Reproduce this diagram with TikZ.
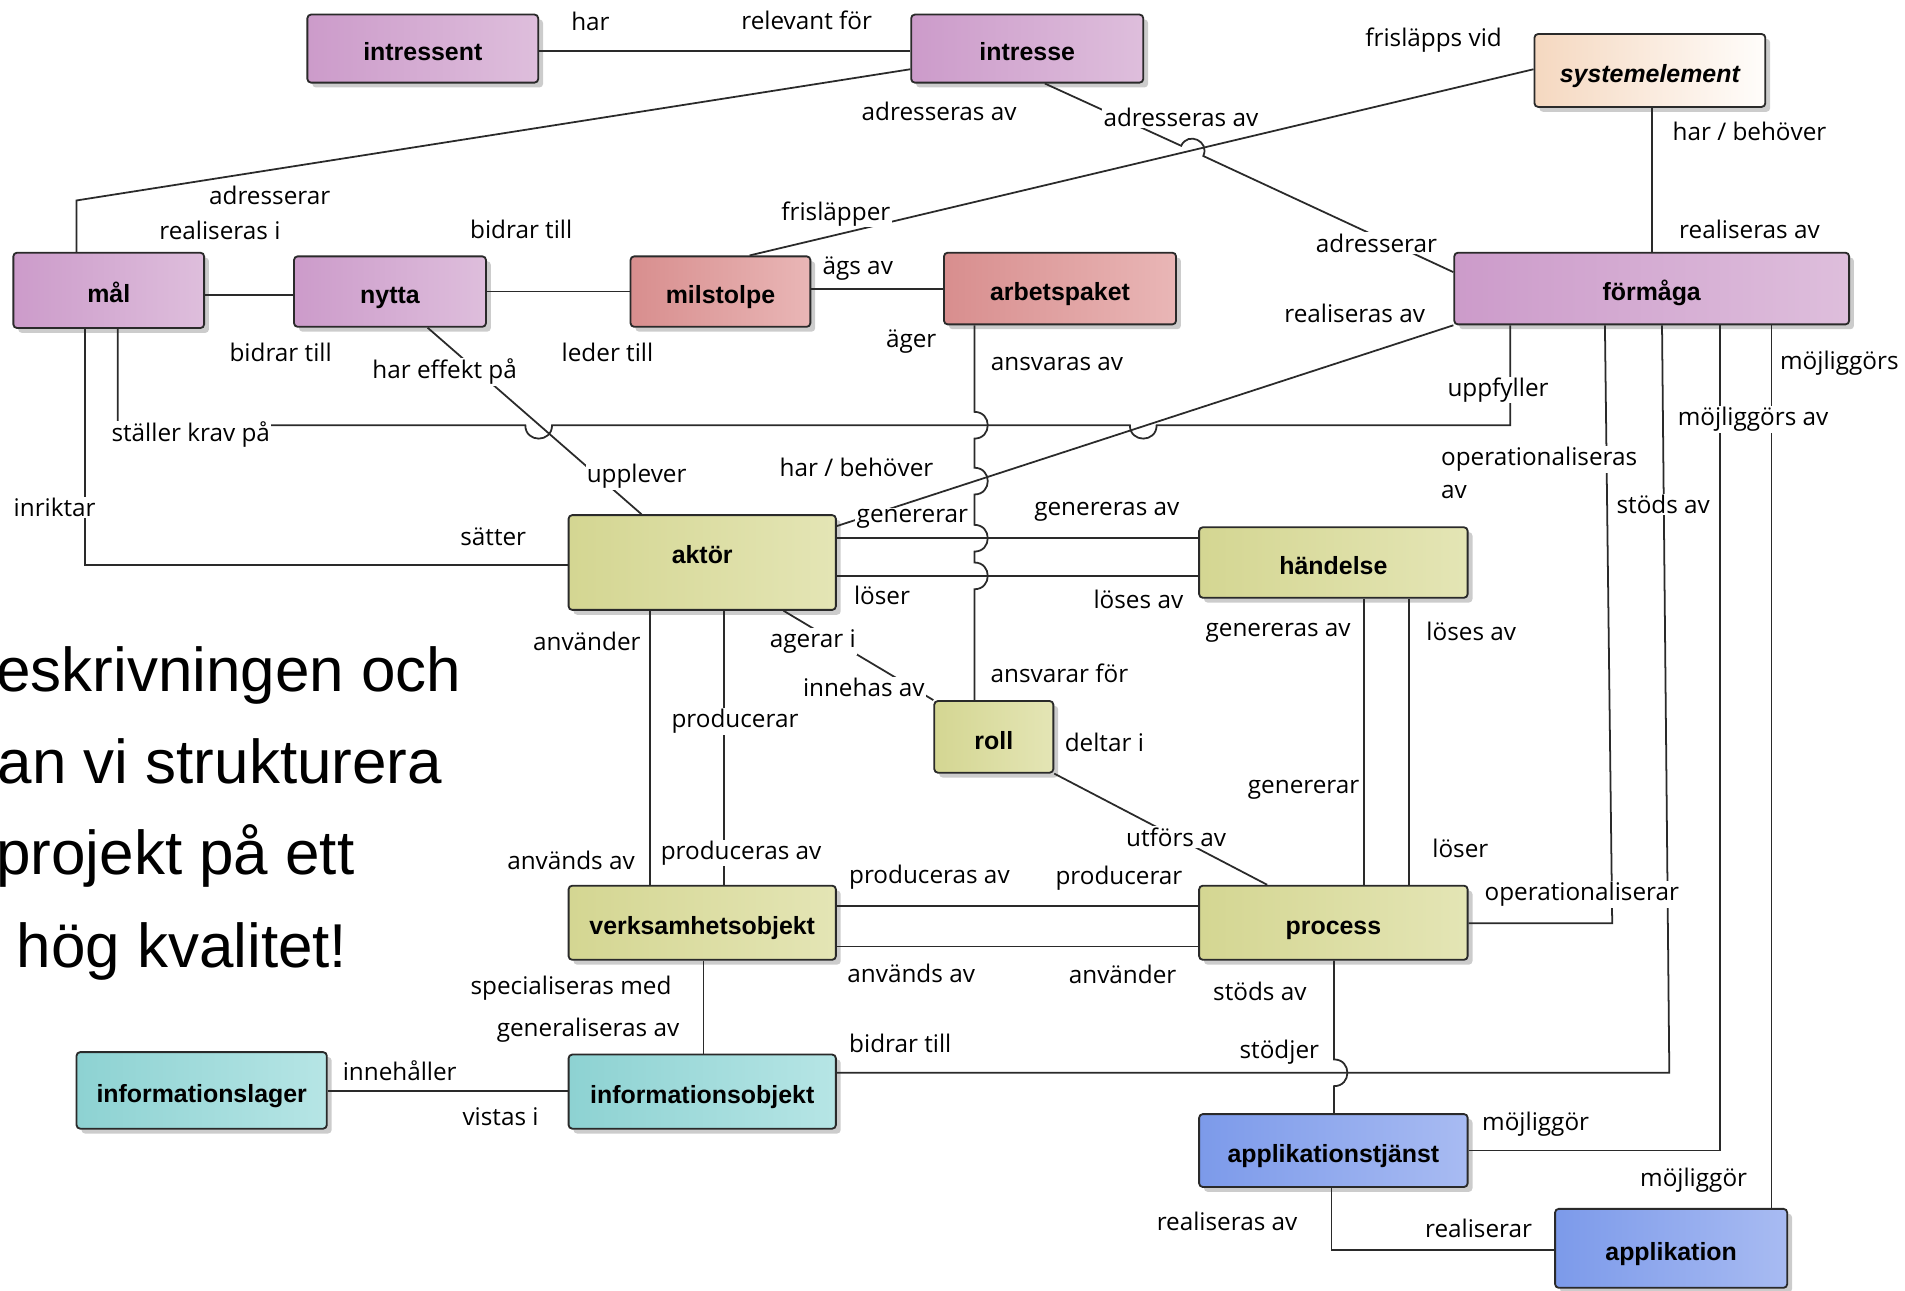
\documentclass[tikz,border=0pt]{standalone}
\usepackage{fontspec}
\setmainfont{Open Sans}
\newfontfamily\boxfont{Liberation Sans}
\newfontfamily\bigfont{Liberation Sans}
\usetikzlibrary{shadows}

\definecolor{lineC}{HTML}{2A2A2A}
\definecolor{purL}{HTML}{CC9BCA}
\definecolor{purR}{HTML}{DEBEDC}
\definecolor{redL}{HTML}{D88E8E}
\definecolor{redR}{HTML}{E9B6B6}
\definecolor{oliL}{HTML}{D4D692}
\definecolor{oliR}{HTML}{E4E5B5}
\definecolor{cyaL}{HTML}{8DD2D2}
\definecolor{cyaR}{HTML}{B6E5E5}
\definecolor{bluL}{HTML}{7C9AEA}
\definecolor{bluR}{HTML}{A8BBF2}
\definecolor{sysL}{HTML}{F5D8C0}
\definecolor{sysR}{HTML}{FFFDFB}

\begin{document}
\begin{tikzpicture}[x=1pt,y=-1pt,
  box/.style={draw=lineC, line width=1.5pt, rounded corners=3pt, inner sep=0pt,
    text height=20pt, text depth=0pt,
    font=\boxfont\bfseries\fontsize{20.5}{24}\selectfont,
    drop shadow={shadow xshift=4pt,shadow yshift=-4pt,opacity=0.2,fill=black}},
  pbox/.style={box, left color=purL, right color=purR},
  rbox/.style={box, left color=redL, right color=redR},
  obox/.style={box, left color=oliL, right color=oliR},
  cbox/.style={box, left color=cyaL, right color=cyaR},
  bbox/.style={box, left color=bluL, right color=bluR},
  sbox/.style={box, left color=sysL, right color=sysR},
  conn/.style={draw=lineC, line width=1.45pt},
  lab/.style={fill=white, inner sep=1pt, text=black, font=\fontsize{20}{24}\selectfont},
  bigtext/.style={anchor=base east, inner sep=0pt, text=black, font=\bigfont\fontsize{51}{60}\selectfont},
]
\useasboundingbox (0,0) rectangle (1568,1062);
\clip (0,0) rectangle (1568,1062);
\fill[white] (0,0) rectangle (1568,1062);

% ---------- side text ----------
\node[bigtext] (t1) at (380,569) {eskrivningen och};
\node[bigtext] (t2) at (364,645) {an vi strukturera};
\node[bigtext] (t3) at (292,720) {projekt på ett};
\node[bigtext] (t4) at (286,796) {hög kvalitet!};

% ---------- concepts ----------
\node[pbox, minimum width=190, minimum height=56] (intressent) at (348,40) {intressent};
\node[pbox, minimum width=191, minimum height=56] (intresse) at (845.5,40) {intresse};
\node[sbox, minimum width=190, minimum height=60] (sysel) at (1358,58) {\itshape systemelement};
\node[pbox, minimum width=157, minimum height=62] (mal) at (89.5,239) {mål};
\node[pbox, minimum width=158, minimum height=58] (nytta) at (321,240) {nytta};
\node[rbox, minimum width=148, minimum height=58] (milstolpe) at (593,240) {milstolpe};
\node[rbox, minimum width=191, minimum height=59] (arbetspaket) at (872.5,237.5) {arbetspaket};
\node[pbox, minimum width=325, minimum height=59] (formaga) at (1359.5,237.5) {förmåga};
\node[obox, minimum width=220, minimum height=78] (aktor) at (578,463) {\raisebox{9.5pt}{aktör}};
\node[obox, minimum width=221, minimum height=58] (handelse) at (1097.5,463) {händelse};
\node[obox, minimum width=98, minimum height=59] (roll) at (818,606.5) {roll};
\node[obox, minimum width=220, minimum height=61] (verks) at (578,759.5) {verksamhetsobjekt};
\node[obox, minimum width=221, minimum height=61] (process) at (1097.5,759.5) {process};
\node[cbox, minimum width=206, minimum height=63] (infolager) at (166,897.5) {informationslager};
\node[cbox, minimum width=220, minimum height=61] (infobj) at (578,898.5) {informationsobjekt};
\node[bbox, minimum width=221, minimum height=60] (apptj) at (1097.5,947) {applikationstjänst};
\node[bbox, minimum width=191, minimum height=65] (app) at (1375.5,1027.5) {applikation};

% ---------- relations ----------
\draw[conn] (intressent.east |- 0,42) -- (intresse.west |- 0,42);
\draw[conn] (intresse.west |- 0,57) -- (63,165) -- (mal.north -| 63,0);
\draw[conn] (intresse.south -| 860,0) -- (972.2,120.0)
  .. controls (977.8,107.9) and (996.0,116.3) .. (990.4,128.4) -- (formaga.west |- 0,224);
\draw[conn] (sysel.west |- 0,57) -- (milstolpe.north -| 617,0);
\draw[conn] (sysel.south -| 1360,0) -- (formaga.north -| 1360,0);
\draw[conn] (mal.east |- 0,243) -- (nytta.west |- 0,243);
\draw[conn] (nytta.east) -- (milstolpe.west);
\draw[conn] (milstolpe.east |- 0,238) -- (arbetspaket.west |- 0,238);
\draw[conn] (nytta.south -| 352,0) -- (aktor.north -| 528,0);
\draw[conn] (mal.south -| 97,0) -- (97,350) -- (432.4,350)
  .. controls (432.4,364.7) and (454.4,364.7) .. (454.4,350) -- (930,350)
  .. controls (930,364.7) and (952,364.7) .. (952,350) -- (1243,350) -- (formaga.south -| 1243,0);
\draw[conn] (mal.south -| 70,0) |- (aktor.west |- 0,465);
\draw[conn] (formaga.south west) -- (aktor.east |- 0,433);
\draw[conn] (arbetspaket.south -| 802,0) -- (802,339)
  .. controls (816.7,339) and (816.7,361) .. (802,361) -- (802,385)
  .. controls (816.7,385) and (816.7,407) .. (802,407) -- (802,432)
  .. controls (816.7,432) and (816.7,454) .. (802,454) -- (802,463)
  .. controls (816.7,463) and (816.7,485) .. (802,485) -- (roll.north -| 802,0);
\draw[conn] (aktor.east |- 0,443) -- (handelse.west |- 0,443);
\draw[conn] (aktor.east |- 0,474) -- (handelse.west |- 0,474);
\draw[conn] (aktor.south -| 535,0) -- (verks.north -| 535,0);
\draw[conn] (aktor.south -| 596,0) -- (verks.north -| 596,0);
\draw[conn] (aktor.south -| 645,0) -- (roll.north west);
\draw[conn] (roll.south east) -- (process.north -| 1043,0);
\draw[conn] (handelse.south -| 1123,0) -- (process.north -| 1123,0);
\draw[conn] (handelse.south -| 1160,0) -- (process.north -| 1160,0);
\draw[conn] (verks.east |- 0,746) -- (process.west |- 0,746);
\draw[conn] (verks.east |- 0,779) -- (process.west |- 0,779);
\draw[conn] (verks.south -| 579,0) -- (infobj.north -| 579,0);
\draw[conn] (infolager.east |- 0,898) -- (infobj.west |- 0,898);
\draw[conn] (infobj.east |- 0,883) -- (1374,883) -- (formaga.south -| 1368,0);
\draw[conn] (process.east |- 0,760) -- (1327,760) -- (formaga.south -| 1321,0);
\draw[conn] (process.south -| 1098,0) -- (1098,872)
  .. controls (1112.7,872) and (1112.7,894) .. (1098,894) -- (apptj.north -| 1098,0);
\draw[conn] (apptj.east |- 0,947) -| (formaga.south -| 1416,0);
\draw[conn] (apptj.south -| 1096,0) |- (app.west |- 0,1029);
\draw[conn] (app.north -| 1458,0) -- (formaga.south -| 1458,0);

% ---------- role names ----------
\node[lab] (l01) at (486,18) {har};
\node[lab] (l02) at (664,17) {relevant för};
\node[lab] (l03) at (1180,33) {frisläpps vid};
\node[lab] (l04) at (773,92) {adresseras av};
\node[lab] (l05) at (972,97) {adresseras av};
\node[lab] (l06) at (1440,108) {har / behöver};
\node[lab] (l07) at (222,161) {adresserar};
\node[lab] (l08) at (181,190) {realiseras i};
\node[lab] (l09) at (429,189) {bidrar till};
\node[lab] (l10) at (688,176) {frisläpper};
\node[lab] (l11) at (1133,200) {adresserar};
\node[lab] (l12) at (1440,189) {realiseras av};
\node[lab] (l13) at (706,221) {ägs av};
\node[lab] (l14) at (1115,258) {realiseras av};
\node[lab] (l15) at (231,290) {bidrar till};
\node[lab] (l16) at (500,290) {leder till};
\node[lab] (l17) at (366,306) {har effekt på};
\node[lab] (l18) at (750,281) {äger};
\node[lab] (l19) at (870,300) {ansvaras av};
\node[lab] (l20) at (1233,321) {uppfyller};
\node[lab, anchor=west] (l21) at (1464,299) {möjliggörs};
\node[lab] (l22) at (1443,345) {möjliggörs av};
\node[lab] (l23) at (157,358) {ställer krav på};
\node[lab] (l24) at (524,392) {upplever};
\node[lab] (l25) at (705,385) {har / behöver};
\node[lab, anchor=west] (l26) at (1185,378) {operationaliseras};
\node[lab, anchor=west] (l27) at (1185,405) {av};
\node[lab] (l28) at (1369,415) {stöds av};
\node[lab] (l29) at (45,418) {inriktar};
\node[lab] (l30) at (406,442) {sätter};
\node[lab] (l31) at (751,427) {genererar};
\node[lab] (l32) at (911,421) {genereras av};
\node[lab] (l33) at (726,490) {löser};
\node[lab] (l34) at (937,493) {löses av};
\node[lab] (l35) at (483,528) {använder};
\node[lab] (l36) at (669,528) {agerar i};
\node[lab] (l37) at (1052,521) {genereras av};
\node[lab] (l38) at (1211,520) {löses av};
\node[lab] (l39) at (872,554) {ansvarar för};
\node[lab] (l40) at (711,566) {innehas av};
\node[lab] (l41) at (605,594) {producerar};
\node[lab] (l42) at (909,611) {deltar i};
\node[lab] (l43) at (1073,650) {genererar};
\node[lab] (l44) at (968,689) {utförs av};
\node[lab] (l45) at (1202,698) {löser};
\node[lab] (l46) at (470,708) {används av};
\node[lab] (l47) at (610,702) {produceras av};
\node[lab] (l48) at (765,722) {produceras av};
\node[lab] (l49) at (921,723) {producerar};
\node[lab] (l50) at (1302,736) {operationaliserar};
\node[lab] (l51) at (750,801) {används av};
\node[lab] (l52) at (924,802) {använder};
\node[lab] (l53) at (470,813) {specialiseras med};
\node[lab] (l54) at (1037,816) {stöds av};
\node[lab] (l55) at (484,848) {generaliseras av};
\node[lab] (l56) at (741,859) {bidrar till};
\node[lab] (l57) at (1053,866) {stödjer};
\node[lab] (l58) at (329,881) {innehåller};
\node[lab] (l59) at (412,919) {vistas i};
\node[lab] (l60) at (1264,925) {möjliggör};
\node[lab] (l61) at (1394,971) {möjliggör};
\node[lab] (l62) at (1010,1005) {realiseras av};
\node[lab] (l63) at (1217,1011) {realiserar};
\end{tikzpicture}
\end{document}
